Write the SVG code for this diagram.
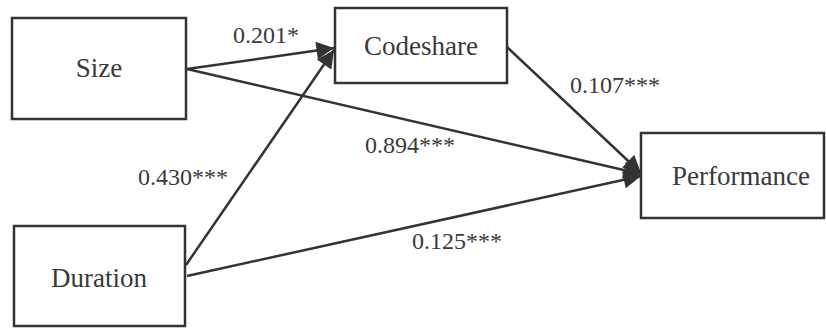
<svg xmlns="http://www.w3.org/2000/svg" width="826" height="328" viewBox="0 0 826 328">
<style>
.box{fill:#fff;stroke:#333;stroke-width:2.5}
text{font-family:'Liberation Serif','DejaVu Serif',serif;fill:#3a3a3a}
.n{font-size:27px;text-anchor:middle}
.l{font-size:24px}
.e{stroke:#333;stroke-width:2.5;fill:none;marker-end:url(#ah)}
</style>
<defs>
<marker id="ah" viewBox="0 0 10 10" refX="10" refY="5" markerWidth="10" markerHeight="7" markerUnits="strokeWidth" orient="auto">
<path d="M0,0 L10,5 L0,10 z" fill="#333"/>
</marker>
</defs>
<rect width="826" height="328" fill="#fff"/>
<g id="connectors">
<line class="e" x1="187" y1="69" x2="334" y2="48"/>
<line class="e" x1="187" y1="69" x2="641" y2="174"/>
<line class="e" x1="186" y1="265" x2="334" y2="50"/>
<line class="e" x1="187" y1="276" x2="641" y2="176"/>
<line class="e" x1="507" y1="47" x2="641" y2="173"/>
<text class="l" x="233" y="43">0.201*</text>
<text class="l" x="570" y="93">0.107***</text>
<text class="l" x="365" y="153">0.894***</text>
<text class="l" x="138" y="185">0.430***</text>
<text class="l" x="412" y="249">0.125***</text>
</g>
<g id="size">
<rect class="box" x="12" y="18" width="174" height="101"/>
<text class="n" x="99" y="77">Size</text>
</g>
<g id="codeshare">
<rect class="box" x="335" y="8" width="172" height="75"/>
<text class="n" x="421" y="55">Codeshare</text>
</g>
<g id="performance">
<rect class="box" x="641" y="133" width="183" height="85"/>
<text class="n" x="741" y="185">Performance</text>
</g>
<g id="duration">
<rect class="box" x="14" y="226" width="171" height="100"/>
<text class="n" x="99" y="287">Duration</text>
</g>
</svg>
